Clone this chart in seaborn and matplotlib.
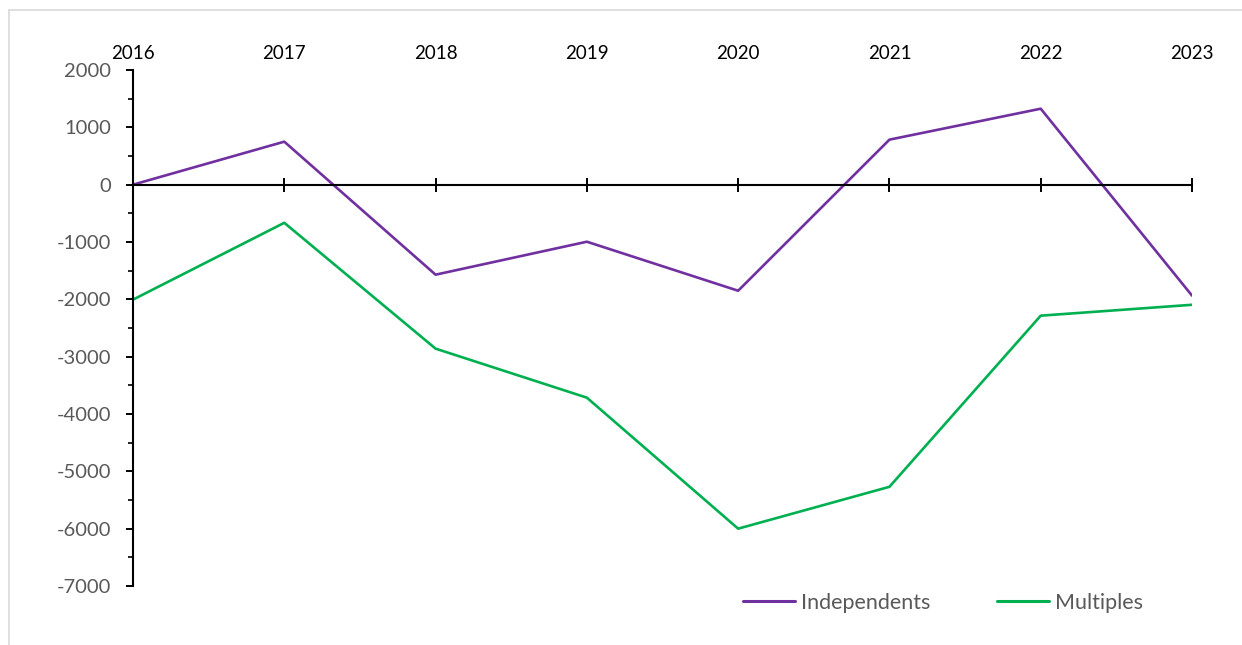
import matplotlib
matplotlib.use("Agg")
import matplotlib.pyplot as plt
from matplotlib.lines import Line2D
from matplotlib.ticker import MultipleLocator
import seaborn as sns
import pandas as pd

years = [2016, 2017, 2018, 2019, 2020, 2021, 2022, 2023]
independents = [0, 750, -1570, -995, -1850, 785, 1325, -1935]
multiples = [-2005, -665, -2860, -3715, -6000, -5270, -2285, -2095]
series_names = ["Independents", "Multiples"]
y_ticks = [2000, 1000, 0, -1000, -2000, -3000, -4000, -5000, -6000, -7000]

df = pd.DataFrame({
    "year": years * 2,
    "value": independents + multiples,
    "series": [series_names[0]] * len(years) + [series_names[1]] * len(years),
})

sns.set_theme(style="white")
plt.rcParams["font.family"] = ["Lato", "DejaVu Sans"]

W, H = 1242, 645
fig = plt.figure(figsize=(W / 100, H / 100), dpi=100)
ax = fig.add_axes([133 / W, 1 - 586 / H, (1192 - 133) / W, (586 - 70) / H])

palette = {"Independents": "#7030A0", "Multiples": "#00B050"}
sns.lineplot(data=df, x="year", y="value", hue="series", palette=palette,
             linewidth=1.9, ax=ax, legend=False)

ax.set_xlim(years[0], years[-1])
ax.set_ylim(-7000, 2000)
ax.set_xlabel("")
ax.set_ylabel("")

# Spines: vertical value axis on the left, category axis crossing at zero
for s in ["top", "right"]:
    ax.spines[s].set_visible(False)
ax.spines["bottom"].set_position(("data", 0))
ax.spines["bottom"].set_color("black")
ax.spines["bottom"].set_linewidth(1.5)
ax.spines["left"].set_color("black")
ax.spines["left"].set_linewidth(1.5)

ax.set_xticks(years)
ax.set_xticklabels([str(y) for y in years])
ax.tick_params(axis="x", direction="inout", length=10, width=1.4, color="black",
               bottom=True, top=False, labelbottom=False, labeltop=True,
               labelsize=13.5, labelcolor="black", pad=1)

ax.set_yticks(y_ticks)
ax.set_yticklabels([str(v) for v in y_ticks])
ax.yaxis.set_minor_locator(MultipleLocator(500))
ax.tick_params(axis="y", which="major", direction="out", length=5, width=1.4,
               color="black", left=True, labelsize=14.5, labelcolor="#595959", pad=11)
ax.tick_params(axis="y", which="minor", direction="out", length=3.5, width=1.2,
               color="black", left=True)
ax.grid(False)

handles = [Line2D([0], [0], color=palette[n], lw=2.2) for n in series_names]
fig.legend(handles, series_names, loc="center left",
           bbox_to_anchor=(724 / W, 1 - 603 / H), ncol=2, frameon=False,
           handlelength=2.4, handletextpad=0.28, columnspacing=3.1,
           prop={"size": 15.5}, labelcolor="#595959")

# Light chart-area border
fig.add_artist(Line2D([9 / W, 9 / W], [0, 1 - 10 / H], transform=fig.transFigure,
                      color="#D9D9D9", lw=1.2))
fig.add_artist(Line2D([9 / W, 1], [1 - 10 / H, 1 - 10 / H], transform=fig.transFigure,
                      color="#D9D9D9", lw=1.2))

fig.savefig("out.png", dpi=100, facecolor="white")
